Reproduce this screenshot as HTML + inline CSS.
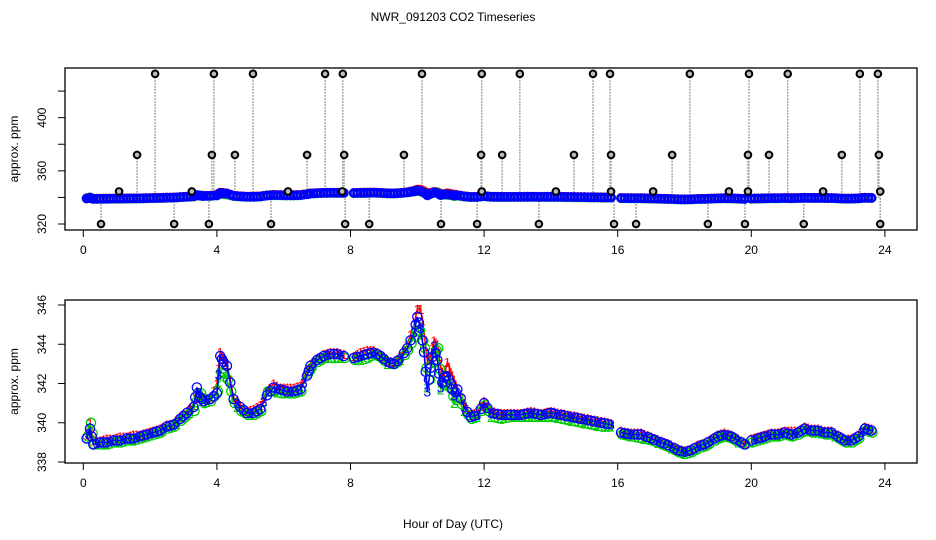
<!DOCTYPE html>
<html><head><meta charset="utf-8">
<style>
body{margin:0;background:#fff}
svg{display:block;font-family:"Liberation Sans",Arial,sans-serif}
</style></head>
<body>
<svg id="chart" width="936" height="540" viewBox="0 0 936 540" xmlns="http://www.w3.org/2000/svg">
<rect width="936" height="540" fill="#fff"/>
<text x="453" y="21" font-size="12" text-anchor="middle">NWR_091203  CO2 Timeseries</text>
<text x="453" y="528" font-size="12" text-anchor="middle">Hour of Day (UTC)</text>
<g id="top"></g>
<g id="bot"></g>
</svg>
<script>
const hours = [0.1,0.2,0.3,0.5,0.7,0.9,1.1,1.3,1.5,1.7,1.9,2.1,2.3,2.5,2.7,2.9,3.1,3.3,3.4,3.5,3.6,3.8,4.0,4.1,4.2,4.3,4.5,4.7,4.9,5.1,5.3,5.5,5.7,5.9,6.1,6.3,6.5,6.7,6.8,7.0,7.2,7.4,7.6,7.8,8.1,8.3,8.5,8.7,8.9,9.1,9.3,9.5,9.7,9.9,10.0,10.1,10.2,10.3,10.4,10.5,10.6,10.7,10.8,10.9,11.0,11.1,11.2,11.4,11.6,11.8,12.0,12.2,12.5,12.8,13.1,13.4,13.7,14.0,14.3,14.6,14.9,15.2,15.5,15.8,16.1,16.4,16.7,17.0,17.3,17.6,17.8,18.0,18.2,18.4,18.6,18.8,19.0,19.2,19.4,19.6,19.8,20.0,20.2,20.4,20.6,20.8,21.0,21.2,21.4,21.6,21.8,22.0,22.2,22.4,22.6,22.8,23.0,23.2,23.4,23.6];
const ch3 = [339.2,339.7,338.9,339.0,339.0,339.1,339.1,339.2,339.2,339.3,339.4,339.5,339.6,339.8,339.9,340.2,340.5,340.8,341.8,341.3,341.1,341.2,341.5,343.4,343.1,342.9,341.2,340.8,340.5,340.5,340.7,341.4,341.8,341.7,341.6,341.6,341.7,342.4,342.9,343.2,343.4,343.5,343.5,343.4,343.3,343.4,343.5,343.6,343.4,343.1,343.0,343.3,343.8,344.6,345.4,344.8,343.6,341.6,342.8,343.9,343.2,341.8,342.3,342.4,342.0,341.4,341.7,340.8,340.3,340.4,341.0,340.5,340.4,340.4,340.4,340.5,340.4,340.5,340.4,340.3,340.2,340.1,340.0,339.9,339.5,339.4,339.4,339.2,339.0,338.8,338.6,338.5,338.6,338.8,338.9,339.1,339.3,339.4,339.3,339.1,338.9,339.1,339.2,339.3,339.4,339.4,339.5,339.4,339.5,339.7,339.6,339.6,339.5,339.5,339.3,339.1,339.1,339.3,339.7,339.6];
const ch2 = [339.3,340.0,338.9,338.9,338.9,339.0,339.0,339.1,339.1,339.2,339.3,339.4,339.5,339.7,339.8,340.1,340.4,340.6,341.5,341.5,341.0,341.1,341.6,342.6,342.5,342.2,341.0,340.6,340.4,340.4,340.6,341.6,341.6,341.5,341.5,341.5,341.6,342.5,342.8,343.1,343.3,343.3,343.3,343.3,343.2,343.2,343.3,343.5,343.3,343.0,343.0,343.2,343.7,344.4,344.9,344.5,343.8,341.8,342.6,343.6,343.8,341.7,342.3,341.9,341.7,341.0,341.3,340.6,340.2,340.3,340.9,340.3,340.2,340.3,340.3,340.3,340.3,340.3,340.2,340.1,340.0,339.9,339.8,339.8,339.4,339.3,339.2,339.1,338.9,338.7,338.5,338.4,338.5,338.7,338.8,339.0,339.2,339.3,339.2,339.0,338.9,339.0,339.1,339.2,339.3,339.3,339.4,339.3,339.4,339.6,339.5,339.5,339.4,339.4,339.2,339.0,339.0,339.2,339.6,339.5];
const ch1 = [339.4,340.0,339.1,339.1,339.2,339.2,339.3,339.3,339.4,339.4,339.5,339.6,339.7,339.9,340.0,340.3,340.6,340.9,341.6,341.4,341.2,341.3,342.0,343.6,343.3,343.0,341.3,340.9,340.6,340.7,340.9,341.6,342.0,341.8,341.8,341.8,341.9,342.6,343.0,343.3,343.5,343.6,343.6,343.5,343.4,343.6,343.7,343.7,343.5,343.2,343.1,343.4,344.0,345.0,345.8,345.8,344.6,343.2,343.4,344.2,344.0,342.8,342.4,343.1,342.6,342.2,341.7,341.0,340.4,340.6,341.1,340.6,340.5,340.5,340.5,340.6,340.5,340.6,340.5,340.4,340.3,340.2,340.1,340.0,339.6,339.5,339.5,339.3,339.1,338.9,338.7,338.6,338.7,338.9,339.0,339.2,339.4,339.5,339.4,339.2,339.0,339.2,339.3,339.4,339.5,339.5,339.6,339.6,339.6,339.8,339.7,339.7,339.6,339.6,339.4,339.2,339.2,339.4,339.8,339.7];
const breakAfter = [7.8,15.8,19.8];
const outHours = [2.15,3.91,5.08,7.24,7.77,10.14,11.93,13.07,15.26,15.77,18.16,19.93,21.09,23.25,23.79,
 1.61,3.85,4.54,6.70,7.81,9.60,11.91,12.54,14.69,15.80,17.63,19.90,20.53,22.71,23.82,
 1.07,3.25,6.13,7.75,11.93,14.15,15.80,17.06,19.33,19.90,22.15,23.86,
 0.53,2.72,3.76,5.62,7.84,8.56,10.71,11.79,13.64,15.89,16.55,18.70,19.81,21.57,23.86];
const outVals = [433,433,433,433,433,433,433,433,433,433,433,433,433,433,433,
 372,372,372,372,372,372,372,372,372,372,372,372,372,372,372,
 344.5,344.5,344.5,344.5,344.5,344.5,344.5,344.5,344.5,344.5,344.5,344.5,
 320,320,320,320,320,320,320,320,320,320,320,320,320,320,320];
const xTicks = [0,4,8,12,16,20,24];
const topYTicks = [320,340,360,380,400,420];
const topYLabels = ["320","","360","","400",""];
const botYTicks = [338,340,342,344,346];

const NS="http://www.w3.org/2000/svg";
function mk(tag,attrs,parent,txt){const e=document.createElementNS(NS,tag);for(const k in attrs)e.setAttribute(k,attrs[k]);if(txt!==undefined)e.textContent=txt;parent.appendChild(e);return e;}
const X0=65,X1=917;
const xs=h=>83.3+h*33.4;
const ysTop=v=>224-(v-320)*1.329;
const ysBot=v=>305+(346-v)*19.63;
const isBreak=i=>breakAfter.some(b=>Math.abs(hours[i]-b)<0.01);
function baseAt(h){let best=0;for(let i=0;i<hours.length;i++)if(Math.abs(hours[i]-h)<Math.abs(hours[best]-h))best=i;return ch3[best];}
function markerPts(s){const pts=[];for(let i=0;i<hours.length;i++){pts.push([hours[i],s[i]]);
  if(i<hours.length-1&&!isBreak(i)){const n=hours[i+1]-hours[i]>0.25?2:1;
    for(let k=1;k<=n;k++){const f=k/(n+1);pts.push([hours[i]+f*(hours[i+1]-hours[i]),s[i]+f*(s[i+1]-s[i])]);}}}return pts;}
function axes(g,top,bot,ys,yt,yl,name){
  const box=mk('rect',{x:X0,y:top,width:X1-X0,height:bot-top,fill:'none',stroke:'#000','stroke-width':1.3},g);
  
  const xa=mk('g',{},g);
  mk('line',{x1:xs(0),x2:xs(24),y1:bot,y2:bot,stroke:'#000'},xa);
  xTicks.forEach(t=>{mk('line',{x1:xs(t),x2:xs(t),y1:bot,y2:bot+7,stroke:'#000'},xa);
    const tx=mk('text',{x:xs(t),y:bot+24,'font-size':12,'text-anchor':'middle'},xa,String(t));
    });
  const ya=mk('g',{},g);
  mk('line',{x1:X0,x2:X0,y1:ys(yt[0]),y2:ys(yt[yt.length-1]),stroke:'#000'},ya);
  yt.forEach((t,i)=>{const y=ys(t);mk('line',{x1:X0-7,x2:X0,y1:y,y2:y,stroke:'#000'},ya);
    if(yl[i]){const tx=mk('text',{x:46,y:y,'font-size':12,'text-anchor':'middle',transform:`rotate(-90 46 ${y})`},ya,yl[i]);
      }});
  const mid=(top+bot)/2;
  const yt2=mk('text',{x:18,y:mid,'font-size':12,'text-anchor':'middle',transform:`rotate(-90 18 ${mid})`},g,'approx. ppm');
  
}
// top panel
const gt=document.getElementById('top');
axes(gt,68,230,ysTop,topYTicks,topYLabels,'top');
outHours.forEach((h,i)=>{
  const ln=mk('line',{x1:xs(h),x2:xs(h),y1:ysTop(outVals[i]),y2:ysTop(baseAt(h)),stroke:'#aaa','stroke-width':1.5,'stroke-dasharray':'2,1'},gt);
  
});
[[ch1,'#f00'],[ch2,'#0c0'],[ch3,'#00f']].forEach(([s,c])=>{
  markerPts(s).forEach(([h,v])=>{
    const p=mk('circle',{cx:xs(h),cy:ysTop(v),r:3.6,fill:'none',stroke:c,'stroke-width':2.6},gt);
    
  });
});
outHours.forEach((h,i)=>{
  const c=mk('circle',{cx:xs(h),cy:ysTop(outVals[i]),r:3.3,fill:'#bbb',stroke:'#000','stroke-width':2},gt);
  
});
// bottom panel
const gb=document.getElementById('bot');
axes(gb,300,463,ysBot,botYTicks,botYTicks.map(String),'bottom');
[[ch1,'#f00','1'],[ch2,'#0c0','2'],[ch3,'#00f','3']].forEach(([s,c,lab])=>{
  let d='';
  for(let i=0;i<hours.length;i++){
    const gap=i>0&&isBreak(i-1);
    d+=(i===0||gap?'M':'L')+xs(hours[i]).toFixed(1)+','+ysBot(s[i]).toFixed(1);
  }
  const p=mk('path',{d:d,fill:'none',stroke:c,'stroke-width':1.5},gb);
  
  markerPts(s).forEach(([h,v],k)=>{
    const x=xs(h),y=ysBot(v);
    if(lab==='1'){
      const t=mk('text',{x:x,y:y+5,'font-size':13,fill:c,'text-anchor':'middle'},gb,'1');
      
    } else if(k%4===1){
      const t=mk('text',{x:x,y:y+5,'font-size':14,fill:c,'text-anchor':'middle'},gb,lab);
      
    } else {
      const m=mk('circle',{cx:x+(lab==='2'?1:0),cy:y,r:4.6,fill:'none',stroke:c,'stroke-width':1.3},gb);
      
    }
  });
});
</script>
</body></html>
